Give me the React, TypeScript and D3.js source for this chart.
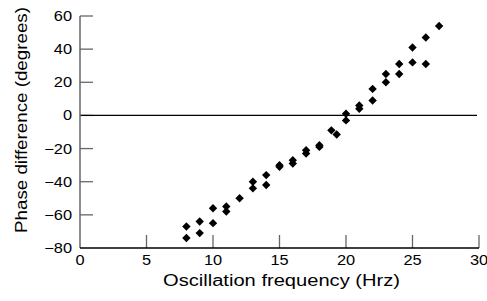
import { useEffect, useRef } from 'react';
import * as d3 from 'd3';

// Frequency (Hz) and phase difference (degrees)
const frequencies = [
  8, 8, 9, 9, 10, 10, 11, 11, 12, 13, 13, 14, 14, 15, 15, 16, 16, 17, 17, 18, 18,
  18.9, 19.3, 20, 20, 21, 21, 22, 22, 23, 23, 24, 24, 25, 25, 26, 26, 27,
];
const phases = [
  -67, -74, -64, -71, -56, -65, -55, -58, -50, -40, -44, -36, -42, -31, -30, -27, -29, -21, -23, -18, -19,
  -9, -11.5, 1, -3, 6, 4, 16, 9, 25, 20, 31, 25, 41, 32, 47, 31, 54,
];
const xTicks = [0, 5, 10, 15, 20, 25, 30];
const yTicks = [-80, -60, -40, -20, 0, 20, 40, 60];

const WIDTH = 487;
const HEIGHT = 301;

export default function App() {
  const svgRef = useRef<SVGSVGElement>(null);

  useEffect(() => {
    if (!svgRef.current) return;
    const svg = d3.select(svgRef.current);
    svg.selectAll('*').remove();

    const font = '"Liberation Sans", Arial, Helvetica, sans-serif';
    const left = 80;
    const right = 479;
    const top = 16;
    const bottom = 248;
    const stretch = 1.17; // the source lettering is a touch wider than Arial

    const x = d3.scaleLinear().domain([0, 30]).range([left, right]);
    const y = d3.scaleLinear().domain([-80, 60]).range([bottom, top]);

    // Inward ticks on y axis
    svg
      .append('g')
      .selectAll('line')
      .data(yTicks.filter((t) => t !== -80))
      .join('line')
      .attr('x1', left)
      .attr('x2', left + 13)
      .attr('y1', (d) => y(d))
      .attr('y2', (d) => y(d))
      .attr('stroke', '#666')
      .attr('stroke-width', 1.3);

    // Upward ticks on x axis
    svg
      .append('g')
      .selectAll('line')
      .data(xTicks.filter((t) => t !== 0))
      .join('line')
      .attr('x1', (d) => x(d))
      .attr('x2', (d) => x(d))
      .attr('y1', bottom)
      .attr('y2', bottom - 13)
      .attr('stroke', '#666')
      .attr('stroke-width', 1.3);

    // Zero reference line
    svg
      .append('line')
      .attr('x1', left)
      .attr('x2', right - 2)
      .attr('y1', y(0))
      .attr('y2', y(0))
      .attr('stroke', '#000')
      .attr('stroke-width', 1.3);

    // Axes lines
    svg
      .append('line')
      .attr('x1', left)
      .attr('x2', left)
      .attr('y1', top)
      .attr('y2', bottom)
      .attr('stroke', '#666')
      .attr('stroke-width', 1.5);
    svg
      .append('line')
      .attr('x1', left)
      .attr('x2', right)
      .attr('y1', bottom)
      .attr('y2', bottom)
      .attr('stroke', '#000')
      .attr('stroke-width', 1.5);

    // Tick labels
    svg
      .append('g')
      .selectAll('text')
      .data(yTicks)
      .join('text')
      .attr('transform', (d) => `translate(${left - 8},${y(d)}) scale(${stretch},1)`)
      .attr('dy', '0.36em')
      .attr('text-anchor', 'end')
      .style('font-family', font)
      .style('font-size', '14px')
      .text((d) => (d < 0 ? `\u2212${Math.abs(d)}` : String(d)));

    svg
      .append('g')
      .selectAll('text')
      .data(xTicks)
      .join('text')
      .attr('transform', (d) => `translate(${x(d)},265) scale(${stretch},1)`)
      .attr('text-anchor', 'middle')
      .style('font-family', font)
      .style('font-size', '14px')
      .text((d) => String(d));

    // Axis titles
    svg
      .append('text')
      .attr('x', 163)
      .attr('y', 286)
      .attr('textLength', 237)
      .attr('lengthAdjust', 'spacingAndGlyphs')
      .style('font-family', font)
      .style('font-size', '16px')
      .text('Oscillation frequency (Hrz)');

    svg
      .append('text')
      .attr('transform', 'translate(27, 233) rotate(-90)')
      .attr('textLength', 226)
      .attr('lengthAdjust', 'spacingAndGlyphs')
      .style('font-family', font)
      .style('font-size', '16px')
      .text('Phase difference (degrees)');

    // Diamond markers
    const points = frequencies.map((f, i) => ({ f, p: phases[i] }));
    const r = 4.2;
    svg
      .append('g')
      .selectAll('path')
      .data(points)
      .join('path')
      .attr('transform', (d) => `translate(${x(d.f)},${y(d.p)})`)
      .attr('d', `M0,${-r}L${r},0L0,${r}L${-r},0Z`)
      .attr('fill', '#000');
  }, []);

  return (
    <svg
      ref={svgRef}
      width={WIDTH}
      height={HEIGHT}
      style={{ position: 'absolute', left: 0, top: 0, background: '#fff' }}
    />
  );
}
